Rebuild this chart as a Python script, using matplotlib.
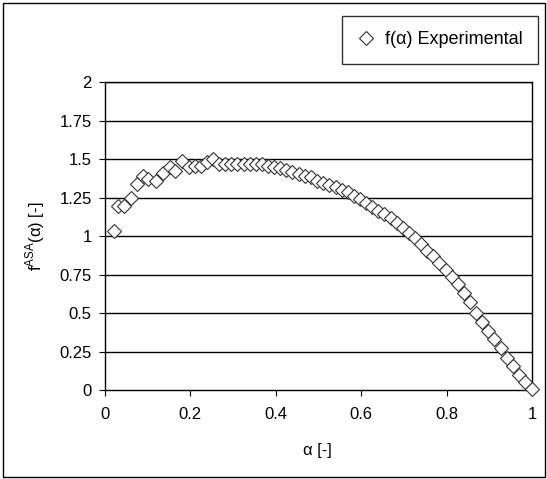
import matplotlib
matplotlib.use('Agg')
from matplotlib import pyplot as plt
from matplotlib.patches import Rectangle

plt.rcParams['font.family'] = ['Liberation Sans', 'DejaVu Sans']
plt.rcParams['mathtext.fontset'] = 'custom'
plt.rcParams['mathtext.rm'] = 'Liberation Sans'

alpha = [0.022, 0.030, 0.045, 0.061, 0.076, 0.090, 0.101, 0.119, 0.137, 0.152,
         0.165, 0.181, 0.197, 0.211, 0.225, 0.238, 0.254,
         0.268, 0.282, 0.296, 0.310, 0.325, 0.339, 0.353, 0.368, 0.382, 0.396,
         0.411, 0.425, 0.439, 0.454, 0.468, 0.482, 0.497, 0.511, 0.525, 0.540,
         0.554, 0.568, 0.583, 0.597, 0.611, 0.626, 0.640, 0.654, 0.669, 0.683,
         0.697, 0.712, 0.726, 0.740, 0.755, 0.769, 0.783, 0.798, 0.812, 0.826,
         0.841, 0.855, 0.869, 0.884, 0.898, 0.912, 0.927, 0.941, 0.955, 0.970,
         0.984, 1.000]
f_exp = [1.034, 1.195, 1.195, 1.25, 1.335, 1.39, 1.37, 1.36, 1.41, 1.45,
         1.42, 1.49, 1.45, 1.455, 1.455, 1.48, 1.50,
         1.47, 1.47, 1.465, 1.465, 1.465, 1.465, 1.465, 1.465, 1.455, 1.45,
         1.44, 1.43, 1.415, 1.40, 1.39, 1.38, 1.36, 1.345, 1.33, 1.315,
         1.30, 1.285, 1.26, 1.24, 1.215, 1.19, 1.165, 1.14, 1.115, 1.085,
         1.055, 1.02, 0.985, 0.95, 0.905, 0.87, 0.825, 0.78, 0.735, 0.69,
         0.63, 0.57, 0.50, 0.44, 0.38, 0.33, 0.27, 0.21, 0.155, 0.10,
         0.05, 0.005]

xticks = [0, 0.2, 0.4, 0.6, 0.8, 1]
yticks = [0, 0.25, 0.5, 0.75, 1, 1.25, 1.5, 1.75, 2]
ytick_labels = ['0', '0.25', '0.5', '0.75', '1', '1.25', '1.5', '1.75', '2']

dpi = 100
W, H = 547, 479
fig = plt.figure(figsize=(W / dpi, H / dpi), dpi=dpi)
fig.patches.append(Rectangle((0.006, 0.004), 0.99, 0.99, transform=fig.transFigure,
                             fill=False, edgecolor='black', linewidth=1))

ax = fig.add_axes([105 / W, 1 - 390 / H, 427 / W, 308 / H])
for y in yticks[1:]:
    ax.axhline(y, color='black', linewidth=1, zorder=1)

ax.plot(alpha, f_exp, linestyle='none', marker='D', markersize=7.5,
        markerfacecolor='white', markeredgecolor='#333333', markeredgewidth=0.8,
        label='f(α) Experimental', zorder=3, clip_on=False)

ax.set_xlim(0, 1)
ax.set_ylim(0, 2)
ax.set_xticks(xticks)
ax.set_xticklabels([str(t) for t in xticks])
ax.set_yticks(yticks)
ax.set_yticklabels(ytick_labels)
ax.tick_params(direction='out', length=4.5, labelsize=12, colors='black')
ax.tick_params(axis='x', pad=8)
ax.tick_params(axis='y', pad=5)
for s in ax.spines.values():
    s.set_color('black')
    s.set_linewidth(1)

fig.text(317 / W, 1 - 451 / H, 'α [-]', fontsize=12, ha='center', va='center')
fig.text(35 / W, 1 - 236 / H, r'f$^{\mathrm{ASA}}$(α) [-]', fontsize=12,
         ha='center', va='center', rotation=90)

leg = fig.legend(loc='upper left', bbox_to_anchor=(342 / W, 1 - 16 / H), frameon=True,
                 fancybox=False, edgecolor='black', fontsize=13, handlelength=1.0,
                 borderpad=0.85, handletextpad=0.55, borderaxespad=0)
leg.get_frame().set_linewidth(1)

plt.savefig('out.png', dpi=dpi)
